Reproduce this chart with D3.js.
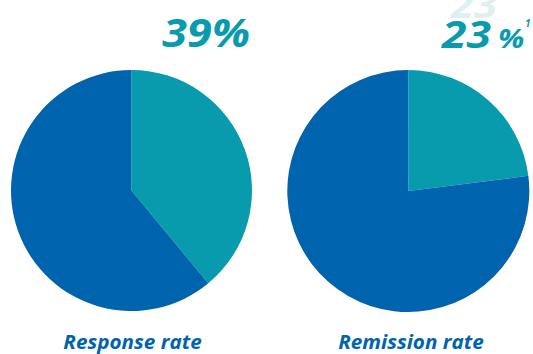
<!DOCTYPE html>
<html><head><meta charset="utf-8">
<script src="https://cdn.jsdelivr.net/npm/d3@7"></script>
<style>html,body{margin:0;padding:0;background:#fff;}svg{display:block;}</style>
</head><body>
<svg id="c" width="533" height="354"></svg>
<script>
const charts = ["Response rate", "Remission rate"];
const rates = [39, 23];
const segmentNames = ["Achieved", "Not achieved"];
const colors = ["#089bae", "#0063ad"];

const svg = d3.select("#c");
const font = "'Open Sans', sans-serif";
const centers = [{x:131.5, y:190.5, r:120.5}, {x:408.3, y:191, r:121}];
const pie = d3.pie().sort(null).value(d => d.v);
const color = d3.scaleOrdinal().domain(segmentNames).range(colors);

function txt(x, y, sx, anchor) {
  return svg.append("text").attr("transform", `translate(${x},${y}) scale(${sx},1)`)
    .attr("text-anchor", anchor).attr("font-family", font)
    .attr("font-weight", 700).attr("font-style", "italic");
}

charts.forEach((name, i) => {
  const c = centers[i];
  const data = [{k: segmentNames[0], v: rates[i]}, {k: segmentNames[1], v: 100 - rates[i]}];
  const arc = d3.arc().innerRadius(0).outerRadius(c.r);
  const g = svg.append("g").attr("transform", `translate(${c.x},${c.y})`);
  g.selectAll("path").data(pie(data)).join("path")
    .attr("d", arc).attr("fill", d => color(d.data.k));
  txt(i === 0 ? 132.5 : 411, 349, 1.06, "middle")
    .attr("font-size", 19.5).attr("fill", "#0063ad").text(name);
});

// ghost number behind right value
txt(474, 18, 1.1, "middle").attr("font-size", 38).attr("fill", "#dff0f2").text(rates[1]);

// left value
txt(250, 47, 1.12, "end").attr("font-size", 40).attr("fill", "#089bae").text(rates[0] + "%");

// right value
txt(442, 48, 1.2, "start").attr("font-size", 37).attr("fill", "#089bae").text(rates[1]);
txt(498, 48, 1.18, "start").attr("font-size", 26).attr("fill", "#089bae").text("%");
txt(525, 27, 1.0, "start").attr("font-size", 10).attr("fill", "#089bae").text("1");
</script>
</body></html>
